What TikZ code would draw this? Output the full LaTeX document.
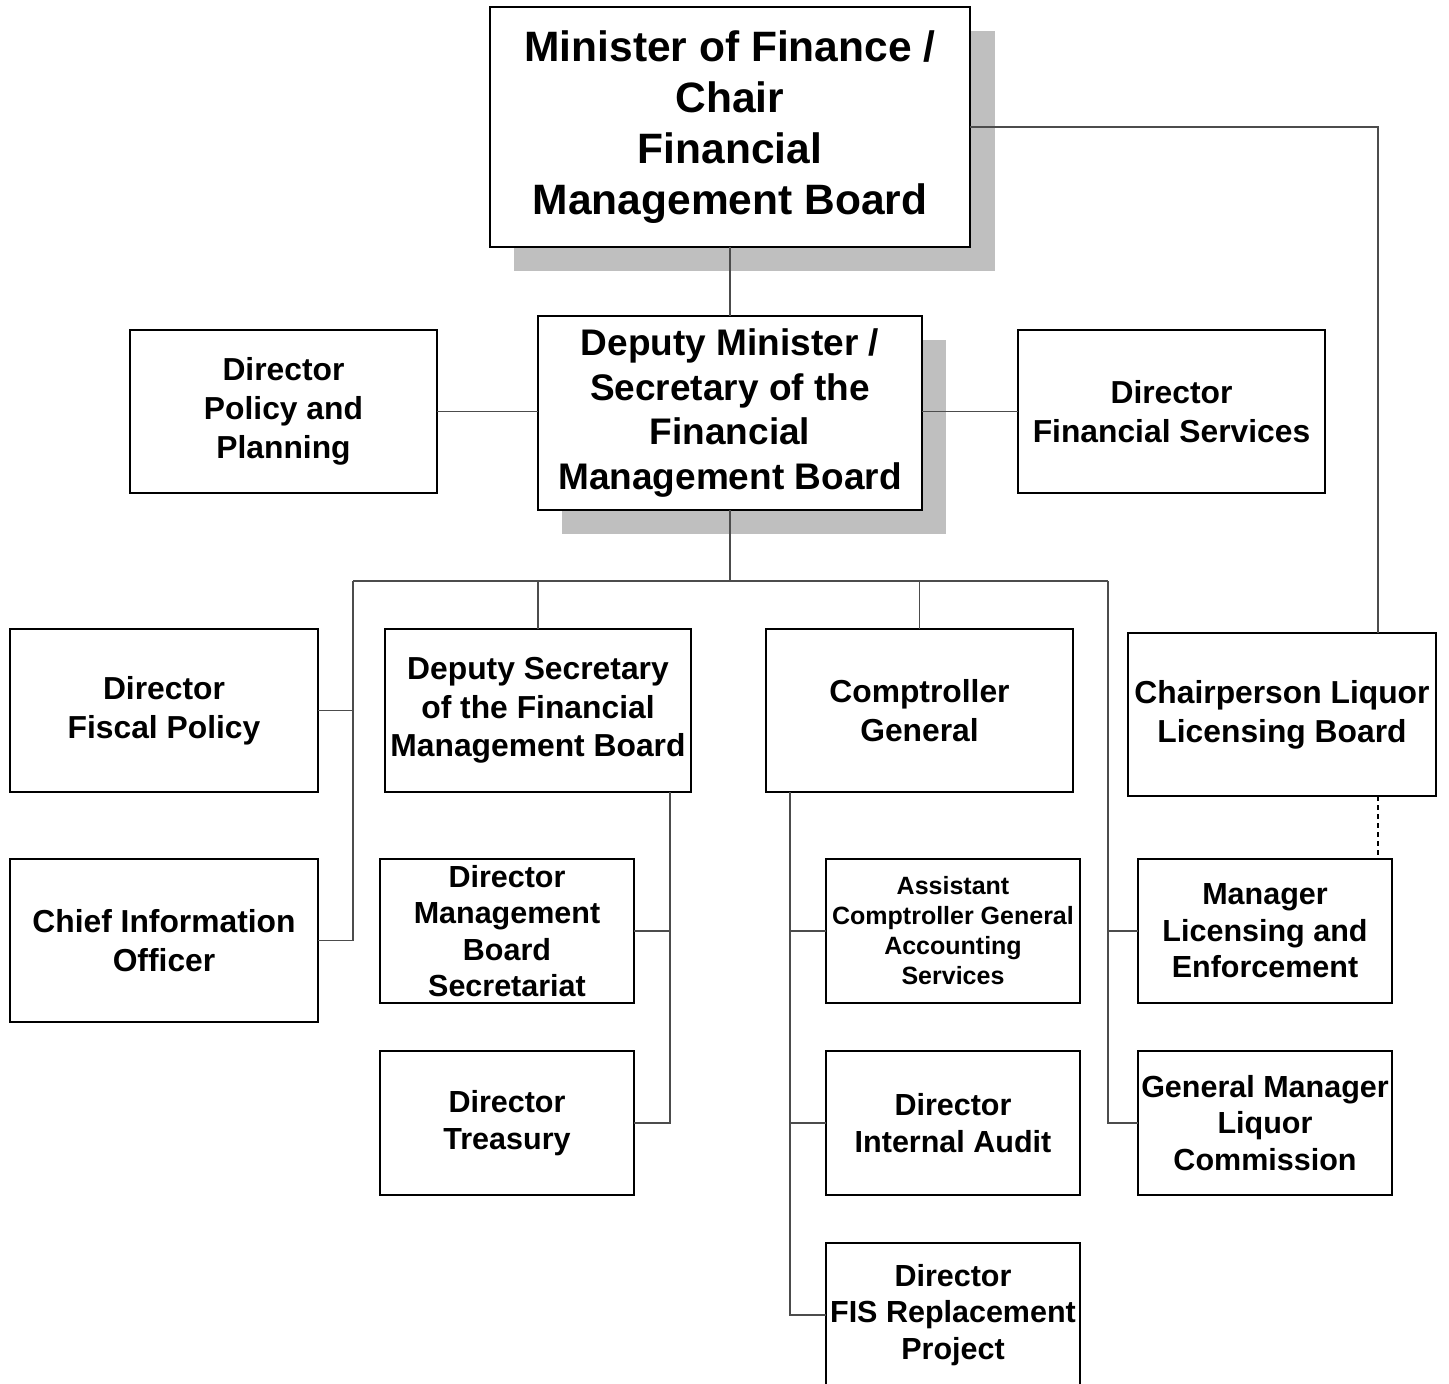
\documentclass[tikz,border=0pt]{standalone}
\usepackage{fontspec}
\setmainfont{Liberation Sans}
\tikzset{
  box/.style={draw=black, line width=1.6pt, fill=white, rectangle, align=center,
              inner sep=1pt, outer sep=0pt, font=\bfseries},
  fA/.style={font=\bfseries\fontsize{42.5}{51}\selectfont},
  fB/.style={font=\bfseries\fontsize{37}{44.7}\selectfont},
  fC/.style={font=\bfseries\fontsize{31.8}{38.7}\selectfont},
  fD/.style={font=\bfseries\fontsize{30.5}{36.6}\selectfont},
  fE/.style={font=\bfseries\fontsize{25}{30}\selectfont},
  conn/.style={draw=black!70, line width=1.1pt},
  dashconn/.style={draw=black, line width=1.4pt, dash pattern=on 5pt off 4pt},
  shadowbox/.style={fill=black!25, draw=none}
}
\newcommand\obox[7]{%
  \node[box,#6,minimum width={(#4-#2)*1pt},minimum height={(#5-#3)*1pt}]
    (#1) at ({(#2+#4)/2},{(#3+#5)/2}) {#7};}
\begin{document}
\begin{tikzpicture}[x=1pt,y=-1pt]
\useasboundingbox (0,0) rectangle (1449,1384);
\fill[white] (0,0) rectangle (1449,1384);
% shadows
\fill[shadowbox] (514,31) rectangle (995,271);
\fill[shadowbox] (562,340) rectangle (946,534);
% boxes
\obox{min}{490}{7}{970}{247}{fA}{Minister of Finance /\\Chair\\Financial\\Management Board}
\obox{dep}{538}{316}{922}{510}{fB}{Deputy Minister /\\Secretary of the\\Financial\\Management Board}
\obox{pol}{130}{330}{437}{493}{fC}{Director\\Policy and\\Planning}
\obox{fin}{1018}{330}{1325}{493}{fC}{Director\\Financial Services}
\obox{fis}{10}{629}{318}{792}{fC}{Director\\Fiscal Policy}
\obox{dsec}{385}{629}{691}{792}{fC}{Deputy Secretary\\of the Financial\\Management Board}
\obox{comp}{766}{629}{1073}{792}{fC}{Comptroller\\General}
\obox{chair}{1128}{633}{1436}{796}{fC}{Chairperson Liquor\\Licensing Board}
\obox{cio}{10}{859}{318}{1022}{fC}{Chief Information\\Officer}
\obox{mbs}{380}{859}{634}{1003}{fD}{Director\\Management\\Board\\Secretariat}
\obox{tre}{380}{1051}{634}{1195}{fD}{Director\\Treasury}
\obox{acg}{826}{859}{1080}{1003}{fE}{Assistant\\Comptroller General\\Accounting\\Services}
\obox{ia}{826}{1051}{1080}{1195}{fD}{Director\\Internal Audit}
\obox{fisr}{826}{1243}{1080}{1387}{fD}{Director\\FIS Replacement\\Project}
\obox{mgr}{1138}{859}{1392}{1003}{fD}{Manager\\Licensing and\\Enforcement}
\obox{gm}{1138}{1051}{1392}{1195}{fD}{General Manager\\Liquor\\Commission}
% helper coordinates
\coordinate (cr) at (1378,127);
\coordinate (bus) at (730,581);
\coordinate (busL) at (353,581);
\coordinate (busR) at (1108,581);
\coordinate (dsv) at (670,700);
\coordinate (cv) at (790,700);
% connectors
\draw[conn] (min.east |- cr) -- (cr) -- (cr |- chair.north);
\draw[conn] (min.south) -- (dep.north);
\draw[dashconn] (cr |- chair.south) -- (cr |- mgr.north);
\draw[conn] (pol.east) -- (pol.east -| dep.west);
\draw[conn] (fin.west) -- (fin.west -| dep.east);
\draw[conn] (dep.south) -- (bus);
\draw[conn] (busL) -- (busR);
\draw[conn] (busL) -- (busL |- cio.east) -- (cio.east);
\draw[conn] (fis.east) -- (fis.east -| busL);
\draw[conn] (dsec.north |- bus) -- (dsec.north);
\draw[conn] (comp.north |- bus) -- (comp.north);
\draw[conn] (busR) -- (busR |- gm.west) -- (gm.west);
\draw[conn] (mgr.west) -- (mgr.west -| busR);
\draw[conn] (dsv |- dsec.south) -- (dsv |- tre.east) -- (tre.east);
\draw[conn] (mbs.east) -- (mbs.east -| dsv);
\draw[conn] (cv |- comp.south) -- (cv |- fisr.west) -- (fisr.west);
\draw[conn] (acg.west) -- (acg.west -| cv);
\draw[conn] (ia.west) -- (ia.west -| cv);
\end{tikzpicture}
\end{document}
